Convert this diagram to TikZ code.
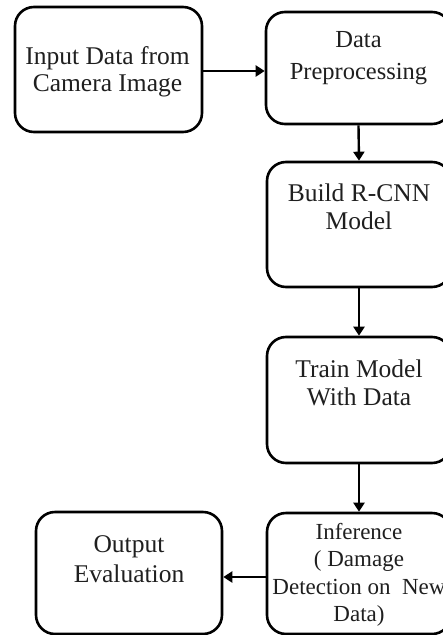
\documentclass[tikz,border=0pt]{standalone}
\usepackage{fontspec}
\setmainfont{Liberation Serif}
\usetikzlibrary{arrows.meta,calc}
\begin{document}
\begin{tikzpicture}[x=1pt,y=-1pt,
  boxshape/.style={draw=black,line width=2.6pt,rounded corners=19pt,inner sep=0pt},
  label/.style={anchor=north,align=center,inner sep=0pt,text=black!88,font=\fontsize{25.5}{28}\selectfont},
  arr/.style={line width=2.4pt,-{Triangle[width=11pt,length=9pt]}}]
\useasboundingbox (0,0) rectangle (443,635);
\clip (0,0) rectangle (443,635);
% boxes
\node[boxshape,minimum width=187pt,minimum height=125pt] (in) at (108.5,69.5) {};
\node[boxshape,minimum width=185pt,minimum height=112pt] (pre) at (358.5,68) {};
\node[boxshape,minimum width=184pt,minimum height=125pt] (build) at (359,224.5) {};
\node[boxshape,minimum width=184pt,minimum height=126pt] (train) at (359,400) {};
\node[boxshape,minimum width=184pt,minimum height=121pt] (infer) at (359,573.5) {};
\node[boxshape,minimum width=186pt,minimum height=122pt] (out) at (129,573) {};
% texts
\node[label,font=\fontsize{25.5}{27.5}\selectfont] (intxt) at (107.5,46) {Input Data from\\Camera Image};
\node[label,font=\fontsize{24.5}{32}\selectfont] (pretxt) at (358.5,31) {Data\\Preprocessing};
\node[label] (buildtxt) at (359,184) {Build R-CNN\\Model};
\node[label] (traintxt) at (359,360) {Train Model\\With Data};
\node[label,font=\fontsize{23}{27.5}\selectfont] (infertxt) at (359,523) {Inference\\( Damage\\Detection on\ \ New\\Data)};
\node[label,font=\fontsize{25.5}{30}\selectfont] (outtxt) at (129,535) {Output\\Evaluation};
% connectors
\draw[arr] ([yshift=-1.5pt]in.east) -- ([yshift=-1.5pt]in.east -| pre.west);
\draw[arr] (pre.south) -- (build.north);
\draw[arr] (build.south) -- (train.north);
\draw[arr] (train.south) -- (infer.north);
\draw[arr] ([yshift=-3.5pt]infer.west) -- ([yshift=-3.5pt]infer.west -| out.east);
\end{tikzpicture}
\end{document}
